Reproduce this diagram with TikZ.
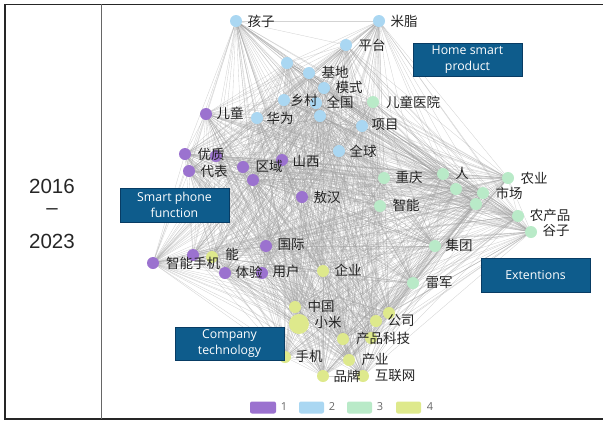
\documentclass[tikz,border=0pt]{standalone}
\usepackage{fontspec}
\newfontfamily\cjk{Noto Sans CJK SC}
\newfontfamily\yearfont{Liberation Sans}
\newfontfamily\boxfont{Open Sans}
\definecolor{cA}{RGB}{155,114,207}
\definecolor{cB}{RGB}{170,215,242}
\definecolor{cC}{RGB}{185,234,200}
\definecolor{cD}{RGB}{222,233,140}
\definecolor{boxblue}{RGB}{14,92,140}
\definecolor{boxedge}{RGB}{8,60,100}
\definecolor{labgray}{RGB}{35,35,35}
\pgfdeclarelayer{edges}
\pgfsetlayers{edges,main}
\tikzset{
  dot/.style={circle, inner sep=0pt, minimum size=12pt, draw=none},
  lab/.style={inner sep=0pt, font=\cjk\fontsize{13.5}{14}\selectfont, text=labgray},
  edge/.style={draw=black!38, line width=0.35pt, opacity=0.45},
  infobox/.style={draw=boxedge, line width=0.4pt, fill=boxblue, text=white, align=center,
    font=\boxfont\fontsize{12.3}{16}\selectfont, minimum width=109pt, inner sep=0pt},
  swatch/.style={rounded corners=2pt, draw=none},
  legnum/.style={inner sep=0pt, font=\boxfont\fontsize{11}{12}\selectfont, text=black!60},
  year/.style={inner sep=0pt, font=\yearfont\fontsize{20.5}{22}\selectfont, text=black!85},
  rule/.style={line width=1.4pt, draw=black!85},
}
\begin{document}
\begin{tikzpicture}[x=1pt, y=-1pt]
\useasboundingbox (0,0) rectangle (603,421);
% table frame
\draw[rule] (4,4.5) -- (603,4.5);
\draw[rule] (4,419) -- (603,419);
\draw[rule] (4.8,4) -- (4.8,419.5);
\draw[line width=1.1pt, draw=black!60] (101.5,4) -- (101.5,419);
% years
\node[year] (y1) at (52,186) {2016};
\node[year] (y2) at (52,212) {–};
\node[year] (y3) at (52,241) {2023};
% dots
\foreach \n/\x/\y/\c in {
 1/236/21/cB, 2/379/21/cB, 3/346/45/cB, 4/287/63/cB, 5/309/73/cB, 6/324/88/cB,
 7/284/100/cB, 8/316/103/cB, 9/320/116/cB, 10/257/118/cB, 11/362/126/cB, 12/339/151/cB,
 13/206/114/cA, 14/185/154/cA, 15/216/156/cA, 16/189/171/cA, 17/243/167/cA, 18/253/180/cA,
 19/282/160/cA, 20/302/197/cA, 21/266/246/cA, 22/153/263/cA, 23/193/255/cA, 24/225/273/cA,
 25/262/273/cA,
 26/373/102/cC, 27/384/178/cC, 28/443/174/cC, 29/456/189/cC, 30/508/178/cC, 31/483/193/cC,
 32/476/204/cC, 33/380/206/cC, 34/518/216/cC, 35/531/232/cC, 36/435/246/cC, 37/413/283/cC,
 38/212/257/cD, 39/323/271/cD, 40/295/307/cD, 42/376/321/cD, 43/389/313/cD,
 44/343/339/cD, 45/371/338/cD, 46/285/357/cD, 47/349/360/cD, 48/323/376/cD, 49/363/376/cD}
 {\node[dot, fill=\c] (d\n) at (\x,\y) {};}
\node[dot, fill=cD, minimum size=20pt] (d41) at (299,324) {};
% edges
\begin{pgfonlayer}{edges}
\foreach \i in {1,...,48}{
  \pgfmathtruncatemacro\s{\i+1}
  \foreach \j in {\s,...,49}{\draw[edge] (d\i.center) -- (d\j.center);}
}
\end{pgfonlayer}
% labels
\foreach \n/\x/\y/\t in {
 1/261/21/孩子, 2/404/21/米脂, 3/372/45/平台, 5/335/72/基地, 6/349/87/模式,
 7/304/100/乡村, 8/340/102/全国, 10/280/118/华为, 11/385/125/项目, 12/363/151/全球,
 13/230/113/儿童, 14/211/154/优质, 16/214/171/代表, 17/269/166/区域, 19/306/161/山西,
 20/327/197/敖汉, 21/291/245/国际, 22/193/263/智能手机, 24/249/272/体验, 25/286/271/用户,
 26/413/102/儿童医院, 27/409/177/重庆, 28/462/173/人, 30/534/178/农业, 31/509/193/市场,
 33/406/205/智能, 34/550/215/农产品, 35/556/230/谷子, 36/459/245/集团, 37/439/283/雷军,
 38/232/254/能, 39/348/270/企业, 40/321/306/中国, 41/328/322/小米, 42/401/320/公司,
 44/383/338/产品科技, 46/309/356/手机, 47/375/359/产业, 48/347/376/品牌, 49/395/376/互联网}
 {\node[lab] (l\n) at (\x,\y) {\t};}
% info boxes
\node[infobox, minimum height=33pt] (bHome) at (467.5,59.5) {Home smart\\product};
\node[infobox, minimum height=34pt] (bPhone) at (174.5,205) {Smart phone\\function};
\node[infobox, minimum height=34pt] (bExt) at (535.5,275) {Extentions};
\node[infobox, minimum height=33pt] (bComp) at (229.5,343.5) {Company\\technology};
% legend
\fill[swatch, cA] (250,401.5) rectangle (276,413.5);
\node[legnum] (g1) at (284,407) {1};
\fill[swatch, cB] (299,401.5) rectangle (324,413.5);
\node[legnum] (g2) at (332,407) {2};
\fill[swatch, cC] (347,401.5) rectangle (372,413.5);
\node[legnum] (g3) at (380,407) {3};
\fill[swatch, cD] (396,401.5) rectangle (421,413.5);
\node[legnum] (g4) at (430,407) {4};
\end{tikzpicture}
\end{document}
